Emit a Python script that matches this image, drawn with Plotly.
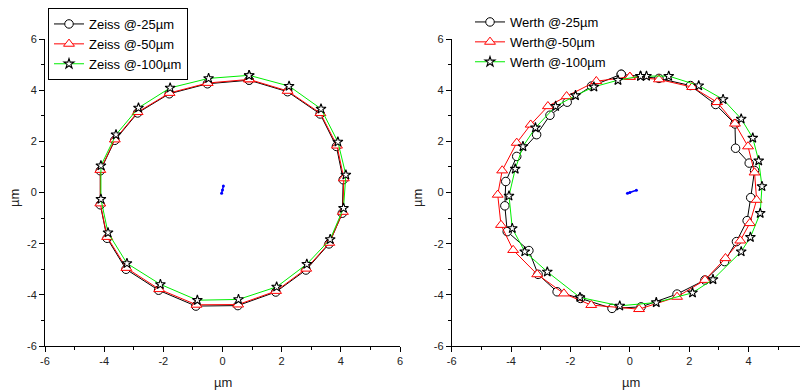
import plotly.graph_objects as go

# ---------------- data ----------------
zeiss25_x = [0.90, 2.20, 3.30, 3.85, 4.08, 4.05, 3.60, 2.82, 1.80, 0.52, -0.90, -2.16, -3.26, -3.90, -4.13, -4.13, -3.64, -2.87, -1.80, -0.51]
zeiss25_y = [4.39, 3.94, 3.07, 1.80, 0.50, -0.81, -2.01, -3.03, -3.89, -4.42, -4.44, -3.82, -3.00, -1.79, -0.48, 0.85, 2.04, 3.11, 3.86, 4.25]

zeiss50_x = [0.90, 2.20, 3.31, 3.87, 4.10, 4.07, 3.61, 2.83, 1.81, 0.53, -0.88, -2.14, -3.25, -3.90, -4.13, -4.13, -3.64, -2.87, -1.79, -0.50]
zeiss50_y = [4.42, 3.97, 3.10, 1.83, 0.55, -0.76, -1.97, -2.98, -3.85, -4.38, -4.39, -3.78, -2.95, -1.74, -0.43, 0.88, 2.07, 3.14, 3.89, 4.28]

zeiss100_x = [0.90, 2.25, 3.33, 3.90, 4.17, 4.09, 3.64, 2.85, 1.83, 0.54, -0.85, -2.10, -3.23, -3.87, -4.11, -4.11, -3.60, -2.84, -1.77, -0.47]
zeiss100_y = [4.58, 4.16, 3.27, 1.98, 0.69, -0.61, -1.83, -2.80, -3.69, -4.18, -4.21, -3.59, -2.77, -1.57, -0.26, 1.05, 2.26, 3.31, 4.09, 4.46]

zeiss_center_x = [-0.03, 0.00, 0.03]
zeiss_center_y = [-0.03, 0.10, 0.25]

werth25_x = [-0.29, 0.98, 2.04, 2.89, 3.54, 3.56, 4.02, 4.20, 4.07, 3.95, 3.59, 3.19, 2.53, 1.59, 0.38, -0.60, -1.66, -2.45, -3.09, -3.40, -4.13, -4.21, -4.18, -3.81, -3.14, -2.69, -2.11, -1.29]
werth25_y = [4.62, 4.46, 4.18, 3.44, 2.68, 1.73, 1.15, 0.86, -0.20, -1.10, -1.92, -2.70, -3.42, -3.97, -4.47, -4.53, -4.14, -3.88, -3.20, -2.27, -1.53, -0.52, 0.43, 1.41, 2.26, 3.02, 3.53, 4.16]

werth50_x = [0.00, 0.98, 2.10, 2.94, 3.54, 3.98, 4.20, 4.27, 4.04, 3.72, 3.22, 2.53, 1.59, 0.31, -1.30, -2.22, -3.12, -3.93, -4.34, -4.45, -4.30, -3.81, -3.34, -2.76, -2.13, -1.13]
werth50_y = [4.52, 4.42, 4.12, 3.53, 2.69, 1.80, 0.78, -0.29, -1.20, -1.88, -2.57, -3.42, -4.08, -4.56, -4.40, -3.95, -3.20, -2.25, -1.27, -0.09, 0.86, 1.94, 2.65, 3.37, 3.76, 4.35]

werth100_x = [0.36, 0.56, 1.31, 2.32, 3.14, 3.75, 4.14, 4.34, 4.45, 4.39, 4.06, 3.75, 2.80, 2.11, 0.89, -0.34, -1.68, -2.78, -3.54, -3.96, -4.07, -3.86, -3.60, -3.18, -2.50, -1.83, -1.21, -0.40]
werth100_y = [4.55, 4.55, 4.55, 4.18, 3.64, 2.88, 2.13, 1.24, 0.24, -0.81, -1.75, -2.31, -3.40, -3.92, -4.30, -4.43, -4.10, -3.10, -2.31, -1.40, -0.13, 0.92, 1.80, 2.53, 3.37, 3.79, 4.13, 4.39]

werth_center_x = [-0.08, 0.00, 0.22]
werth_center_y = [-0.03, 0.00, 0.09]

tick_vals = [-6, -4, -2, 0, 2, 4, 6]
tick_text = ["-6", "-4", "-2", "0", "2", "4", "6"]

names_left = ["Zeiss @-25µm", "Zeiss @-50µm", "Zeiss @-100µm"]
names_right = ["Werth @-25µm", "Werth@-50µm", "Werth @-100µm"]
axis_title = "µm"

FONT = "Arial, 'Liberation Sans', sans-serif"


def closed(v):
    return list(v) + [v[0]]


fig = go.Figure()

styles = [
    dict(line=dict(color="black", width=1),
         marker=dict(symbol="circle", size=8.5, color="white", line=dict(width=1, color="black"))),
    dict(line=dict(color="red", width=1),
         marker=dict(symbol="triangle-up", size=9.5, color="white", line=dict(width=1, color="red"))),
    dict(line=dict(color="#00ee00", width=1),
         marker=dict(symbol="star", size=7.5, color="white", line=dict(width=1.1, color="black"))),
]

left_sets = [(zeiss25_x, zeiss25_y), (zeiss50_x, zeiss50_y), (zeiss100_x, zeiss100_y)]
right_sets = [(werth25_x, werth25_y), (werth50_x, werth50_y), (werth100_x, werth100_y)]

for (xs, ys), nm, st in zip(left_sets, names_left, styles):
    fig.add_trace(go.Scatter(x=closed(xs), y=closed(ys), mode="lines+markers", name=nm,
                             xaxis="x", yaxis="y", legend="legend", **st))
fig.add_trace(go.Scatter(x=zeiss_center_x, y=zeiss_center_y, mode="lines+markers", showlegend=False,
                         line=dict(color="blue", width=1.5), marker=dict(size=3, color="blue"),
                         xaxis="x", yaxis="y"))

for (xs, ys), nm, st in zip(right_sets, names_right, styles):
    fig.add_trace(go.Scatter(x=closed(xs), y=closed(ys), mode="lines+markers", name=nm,
                             xaxis="x2", yaxis="y2", legend="legend2", **st))
fig.add_trace(go.Scatter(x=werth_center_x, y=werth_center_y, mode="lines+markers", showlegend=False,
                         line=dict(color="blue", width=1.5), marker=dict(size=3, color="blue"),
                         xaxis="x2", yaxis="y2"))

# The page body adds an 8px margin; the figure is sized to the remaining window
OFF = 8
W, H = 808 - OFF, 391 - OFF


def px(x):
    return (x - OFF) / W


def py(y):
    return 1 - (y - OFF) / H


ax_common = dict(range=[-6, 6], tickvals=tick_vals, ticktext=tick_text, showgrid=False, zeroline=False,
                 showline=True, linecolor="black", linewidth=1, ticks="outside", ticklen=5,
                 tickcolor="black", tickfont=dict(family=FONT, size=11, color="#222"),
                 minor=dict(ticks="outside", ticklen=3, dtick=1, tickcolor="black", showgrid=False),
                 fixedrange=True, automargin=False)

y_dom = [py(346), py(39)]
fig.update_layout(
    width=W, height=H,
    margin=dict(l=0, r=0, t=0, b=0, autoexpand=False),
    plot_bgcolor="white", paper_bgcolor="white",
    font=dict(family=FONT, size=13, color="black"),
    xaxis=dict(domain=[px(45), px(400)], anchor="y", **ax_common),
    yaxis=dict(domain=y_dom, anchor="x", **ax_common),
    xaxis2=dict(domain=[px(451.7), 1.0], anchor="y2", **ax_common),
    yaxis2=dict(domain=y_dom, anchor="x2", **ax_common),
    legend=dict(x=px(48), y=py(8), xanchor="left", yanchor="top", bgcolor="white",
                bordercolor="black", borderwidth=1, font=dict(family=FONT, size=13, color="black"),
                tracegroupgap=0, itemwidth=30),
    legend2=dict(x=px(470), y=py(7), xanchor="left", yanchor="top", bgcolor="rgba(0,0,0,0)",
                 borderwidth=0, font=dict(family=FONT, size=13, color="black"),
                 tracegroupgap=0, itemwidth=30),
    showlegend=True,
)

annots = [
    dict(x=px(223), y=py(382), text=axis_title),
    dict(x=px(631), y=py(382), text=axis_title),
    dict(x=px(14), y=py(198), text=axis_title, textangle=-90),
    dict(x=px(417), y=py(198), text=axis_title, textangle=-90),
]
for a in annots:
    fig.add_annotation(xref="paper", yref="paper", showarrow=False, xanchor="center", yanchor="middle",
                       font=dict(family=FONT, size=13, color="#222"), **a)

fig.write_html("out.html")
